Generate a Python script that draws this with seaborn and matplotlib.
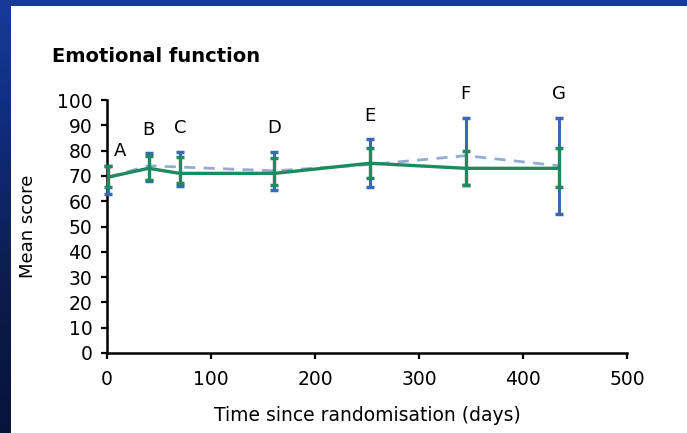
import numpy as np
import pandas as pd
import matplotlib
matplotlib.use("Agg")
import matplotlib.pyplot as plt
import seaborn as sns

# Visit timeline and mean scores (with confidence limits) for both arms
days = [1, 40, 70, 161, 253, 345, 435]
visit_labels = ["A", "B", "C", "D", "E", "F", "G"]

blue_mean = [69.5, 74, 73.5, 72, 74.5, 78, 74]
blue_low = [63, 68, 66, 64.5, 65.5, 66.5, 55]
blue_high = [74, 79, 79.5, 79.5, 84.5, 93, 93]

green_mean = [69.5, 73, 71, 71, 75, 73, 73]
green_low = [65.5, 68.5, 67, 66.5, 69, 66.5, 65.5]
green_high = [74, 78, 77.5, 77, 81, 80, 81]

x_ticks = [0, 100, 200, 300, 400, 500]
y_ticks = list(range(0, 101, 10))

BLUE = "#3a68b2"
GREEN = "#1f8a60"

sns.set_style("ticks")
plt.rcParams["font.family"] = ["DejaVu Sans"]
plt.rcParams["text.color"] = "black"
plt.rcParams["axes.labelcolor"] = "black"

df = pd.DataFrame({
    "day": days * 2,
    "score": blue_mean + green_mean,
    "arm": ["blue"] * len(days) + ["green"] * len(days),
})

fig = plt.figure(figsize=(6.87, 4.33), dpi=100)
fig.patch.set_facecolor("white")

# Dark blue frame on the left and top edges
grad = np.linspace(0, 1, 256).reshape(-1, 1)
frame_cmap = matplotlib.colors.LinearSegmentedColormap.from_list(
    "frame", ["#163b9a", "#0f2a78", "#0b1c4c", "#07143a"])
left_ax = fig.add_axes([0, 0, 11 / 687, 1])
left_ax.imshow(grad, aspect="auto", cmap=frame_cmap, extent=[0, 1, 0, 1])
left_ax.set_axis_off()
top_ax = fig.add_axes([0, 1 - 6 / 433, 1, 6 / 433])
top_ax.add_patch(plt.Rectangle((0, 0), 1, 1, color="#163a96", transform=top_ax.transAxes))
top_ax.set_axis_off()

ax = fig.add_axes([107 / 687, 1 - 353 / 433, 520 / 687, 253 / 433])

# Blue arm (dashed) drawn underneath the green arm (solid)
sns.lineplot(data=df[df.arm == "blue"], x="day", y="score", ax=ax,
             color=BLUE, linewidth=2.0, linestyle=(0, (4, 3)), alpha=0.55,
             legend=False, clip_on=False)
ax.errorbar(days, blue_mean,
            yerr=[np.subtract(blue_mean, blue_low), np.subtract(blue_high, blue_mean)],
            fmt="none", ecolor=BLUE, elinewidth=2.2, capsize=3, capthick=2.5,
            clip_on=False, zorder=3)

sns.lineplot(data=df[df.arm == "green"], x="day", y="score", ax=ax,
             color=GREEN, linewidth=2.4, legend=False, clip_on=False)
ax.errorbar(days, green_mean,
            yerr=[np.subtract(green_mean, green_low), np.subtract(green_high, green_mean)],
            fmt="none", ecolor=GREEN, elinewidth=2.4, capsize=3, capthick=2.5,
            clip_on=False, zorder=4)

# Visit letters above each error bar
for i, (d, top, lab) in enumerate(zip(days, blue_high, visit_labels)):
    off = (9, 11) if i == 0 else (0, 17)
    ax.annotate(lab, (d, top), xytext=off, textcoords="offset points",
                ha="center", va="center", fontsize=13, color="black",
                annotation_clip=False)

ax.set_xlim(0, 500)
ax.set_ylim(0, 100)
ax.set_xticks(x_ticks)
ax.set_yticks(y_ticks)
ax.tick_params(axis="both", direction="out", length=4.5, width=1.6,
               labelsize=13.5, colors="black", labelcolor="black", pad=6)
ax.tick_params(axis="x", pad=8)
for side in ("top", "right"):
    ax.spines[side].set_visible(False)
for side in ("left", "bottom"):
    ax.spines[side].set_linewidth(1.8)
    ax.spines[side].set_color("black")

ax.set_xlabel("Time since randomisation (days)", fontsize=13.5, labelpad=12)
ax.set_ylabel("Mean score", fontsize=13, labelpad=14)

fig.text(52 / 687, 1 - 57 / 433, "Emotional function", ha="left", va="center",
         fontsize=14, fontweight="bold", color="black")

fig.savefig("out.png", dpi=100, facecolor="white")
